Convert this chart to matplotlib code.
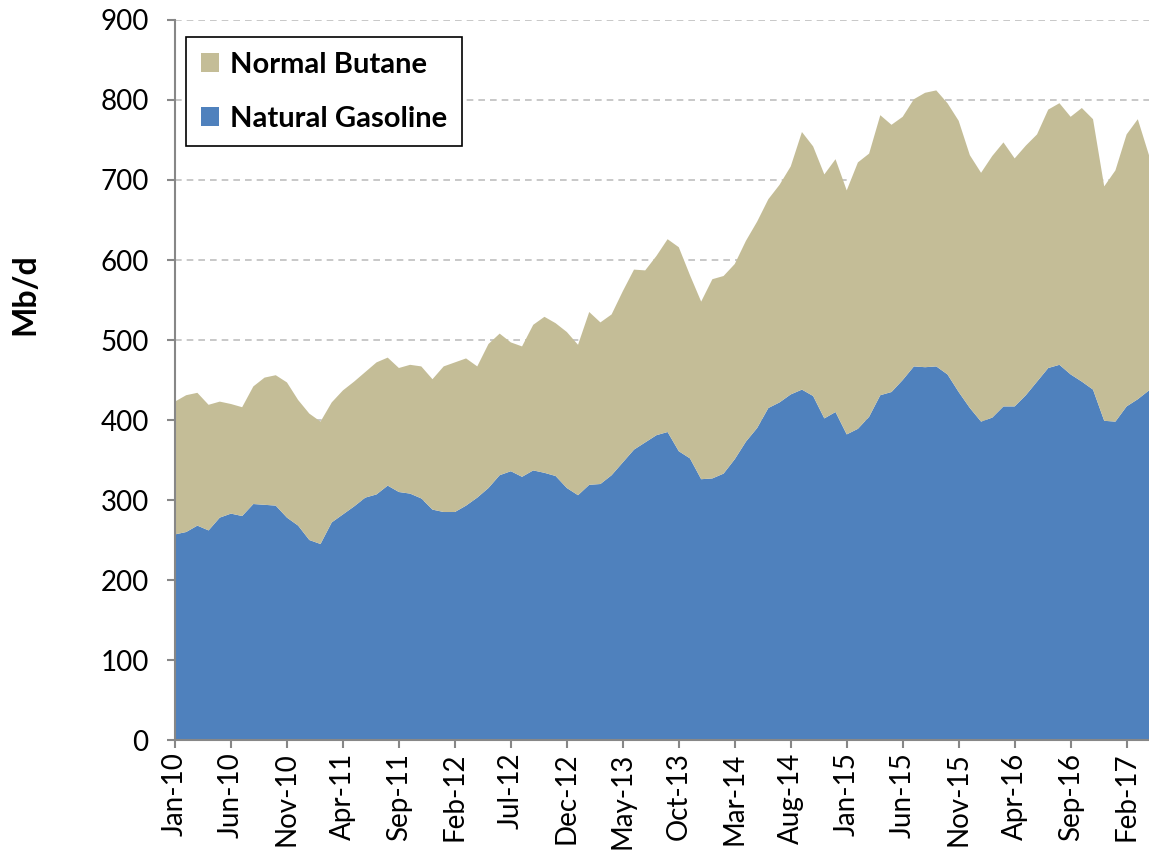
import numpy as np
from matplotlib import pyplot as plt

# monthly, Jan-2010 .. Apr-2017
months = ['Jan', 'Feb', 'Mar', 'Apr', 'May', 'Jun', 'Jul', 'Aug', 'Sep', 'Oct', 'Nov', 'Dec']
labels = ['%s-%02d' % (months[i % 12], 10 + i // 12) for i in range(88)]

natural_gasoline = [257, 260, 268, 262, 278, 283, 280, 295, 294, 293,
                    278, 268, 250, 245, 272, 282, 292, 303, 307, 318,
                    310, 308, 302, 288, 285, 285, 293, 303, 315, 331,
                    336, 329, 337, 334, 330, 315, 306, 319, 320, 331,
                    347, 363, 372, 381, 385, 361, 352, 326, 327, 333,
                    351, 373, 390, 415, 422, 432, 438, 430, 402, 410,
                    382, 389, 404, 431, 435, 450, 467, 466, 467, 457,
                    435, 415, 398, 403, 417, 417, 431, 448, 465, 469,
                    457, 448, 438, 399, 398, 417, 426, 437]
normal_butane = [166, 171, 166, 157, 145, 137, 136, 147, 159, 163,
                 169, 157, 158, 153, 150, 155, 156, 157, 165, 160,
                 155, 161, 165, 163, 182, 187, 184, 164, 180, 177,
                 161, 163, 182, 195, 191, 195, 188, 216, 202, 201,
                 214, 225, 215, 224, 241, 255, 229, 222, 249, 247,
                 244, 251, 258, 261, 272, 285, 322, 312, 305, 316,
                 305, 333, 329, 350, 334, 329, 334, 343, 345, 339,
                 339, 316, 311, 327, 330, 310, 312, 309, 323, 327,
                 322, 342, 338, 293, 314, 340, 350, 294]

x = np.arange(len(labels))

fig = plt.figure(figsize=(11.49, 8.58), dpi=100)
ax = fig.add_axes([0.1523, 0.1375, 0.8477, 0.8392])

ax.stackplot(x, natural_gasoline, normal_butane,
             colors=['#4F81BD', '#C4BD97'], labels=['Natural Gasoline', 'Normal Butane'],
             zorder=2)

ax.set_xlim(0, 87)
ax.set_ylim(0, 900)
ax.set_yticks(range(0, 901, 100))
ax.set_xticks(x[::5])
ax.set_xticklabels(labels[::5], rotation=90)
ax.yaxis.grid(True, linestyle=(0, (4, 3)), color='#BFBFBF', linewidth=1.2, zorder=0)
ax.set_axisbelow(True)

for s in ['top', 'right']:
    ax.spines[s].set_visible(False)
for s in ['left', 'bottom']:
    ax.spines[s].set_color('#878787')
    ax.spines[s].set_linewidth(1.5)
    ax.spines[s].set_zorder(3)

ax.tick_params(axis='y', direction='out', length=6, width=1.5, color='#878787',
               labelsize=20, pad=13)
ax.tick_params(axis='x', direction='out', length=6, width=1.5, color='#878787',
               labelsize=20, pad=3)
for t in ax.get_xticklabels() + ax.get_yticklabels():
    t.set_family('Lato')

fig.text(0.022, 1 - 294 / 858, 'Mb/d', rotation=90, fontsize=23, fontweight='bold',
         family='Lato', ha='center', va='center')

h, l = ax.get_legend_handles_labels()
leg = ax.legend(h[::-1], l[::-1], loc='upper left', bbox_to_anchor=(0.0113, 0.976),
                borderaxespad=0,
                prop={'family': 'Lato', 'weight': 'bold', 'size': 21},
                frameon=True, fancybox=False, edgecolor='black', framealpha=1,
                handlelength=0.62, handleheight=0.62, handletextpad=0.4,
                labelspacing=0.95, borderpad=0.5)
leg.get_frame().set_linewidth(1.2)

fig.savefig('out.png', dpi=100)
